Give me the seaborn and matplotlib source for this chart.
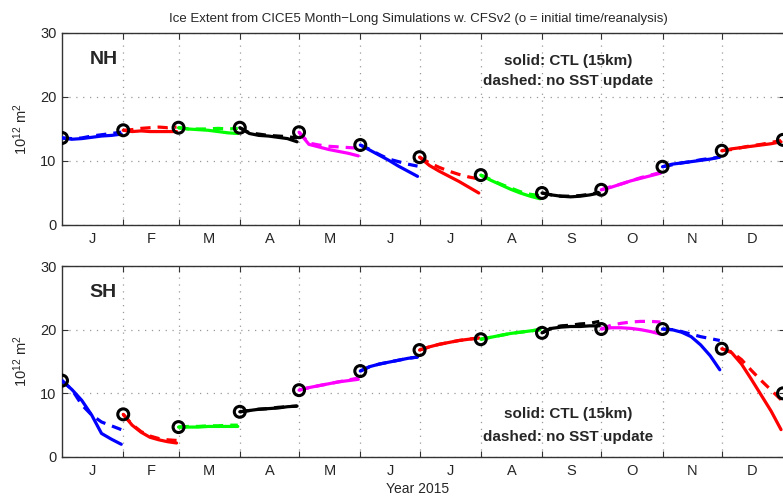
import numpy as np
import pandas as pd
import matplotlib
matplotlib.use("Agg")
import matplotlib.pyplot as plt
import seaborn as sns

# ---- data -----------------------------------------------------------------
month_labels = ["J", "F", "M", "A", "M", "J", "J", "A", "S", "O", "N", "D"]
month_starts = [0, 31, 59, 90, 120, 151, 181, 212, 243, 273, 304, 334, 365]
seg_colors = ["blue", "red", "lime", "black", "magenta", "blue",
              "red", "lime", "black", "magenta", "blue", "red"]

# reanalysis value at each month's initial time (incl. 1 Jan 2016)
nh_init = [13.6, 14.8, 15.2, 15.2, 14.5, 12.5, 10.6, 7.8, 5.0, 5.5, 9.1, 11.6, 13.3]
sh_init = [12.0, 6.7, 4.7, 7.1, 10.5, 13.5, 16.8, 18.5, 19.5, 20.1, 20.1, 17.0, 10.0]

# month-long forecasts, sampled evenly through each month
nh_ctl = [
    [13.6, 13.4, 13.5, 13.7, 13.9, 14.0, 14.2],
    [14.8, 14.6, 14.7, 14.6, 14.6, 14.6, 14.6],
    [15.2, 15.0, 14.9, 14.8, 14.6, 14.4, 14.3],
    [15.2, 14.3, 14.0, 13.9, 13.7, 13.5, 13.0],
    [14.5, 12.6, 12.2, 11.8, 11.5, 11.2, 10.8],
    [12.5, 11.7, 10.9, 10.1, 9.2, 8.4, 7.6],
    [10.6, 9.3, 8.4, 7.6, 6.8, 5.9, 5.0],
    [7.8, 7.0, 6.3, 5.6, 5.0, 4.5, 4.1],
    [5.0, 4.7, 4.5, 4.4, 4.5, 4.7, 5.0],
    [5.5, 5.9, 6.4, 6.9, 7.3, 7.7, 8.1],
    [9.1, 9.5, 9.7, 9.9, 10.1, 10.3, 10.6],
    [11.6, 11.9, 12.1, 12.3, 12.5, 12.7, 13.0],
]
nh_nosst = [
    [13.6, 13.5, 13.6, 13.9, 14.1, 14.3, 14.5],
    [14.8, 14.9, 15.1, 15.2, 15.3, 15.2, 15.3],
    [15.2, 15.0, 15.0, 15.0, 15.1, 15.0, 15.1],
    [15.2, 14.4, 14.2, 14.0, 13.9, 13.8, 13.6],
    [14.5, 12.8, 12.5, 12.3, 12.2, 12.1, 12.0],
    [12.5, 11.8, 11.0, 10.3, 9.9, 9.5, 9.2],
    [10.6, 9.7, 9.0, 8.4, 7.9, 7.5, 7.2],
    [7.8, 7.1, 6.4, 5.8, 5.2, 4.8, 4.6],
    [5.0, 4.7, 4.5, 4.5, 4.6, 4.8, 5.1],
    [5.5, 6.0, 6.4, 6.9, 7.4, 7.8, 8.2],
    [9.1, 9.4, 9.7, 9.9, 10.2, 10.4, 10.6],
    [11.6, 11.8, 12.1, 12.4, 12.6, 12.9, 13.2],
]
sh_ctl = [
    [12.0, 10.6, 8.9, 6.6, 3.7, 2.8, 2.0],
    [6.7, 5.0, 3.9, 3.1, 2.7, 2.4, 2.2],
    [4.7, 4.7, 4.7, 4.8, 4.8, 4.8, 4.8],
    [7.1, 7.3, 7.5, 7.6, 7.7, 7.9, 8.0],
    [10.5, 10.9, 11.2, 11.5, 11.8, 12.0, 12.2],
    [13.5, 14.2, 14.6, 14.9, 15.2, 15.5, 15.7],
    [16.8, 17.3, 17.7, 18.0, 18.3, 18.5, 18.7],
    [18.5, 18.8, 19.1, 19.4, 19.6, 19.8, 20.0],
    [19.5, 20.2, 20.4, 20.5, 20.5, 20.6, 20.6],
    [20.1, 20.3, 20.3, 20.2, 20.0, 19.7, 19.3],
    [20.1, 20.0, 19.6, 18.9, 17.6, 15.9, 13.7],
    [17.0, 16.4, 14.6, 12.2, 9.7, 7.2, 4.3],
]
sh_nosst = [
    [12.0, 10.6, 8.2, 6.6, 5.5, 4.9, 4.3],
    [6.7, 5.1, 4.0, 3.3, 2.9, 2.7, 2.6],
    [4.7, 4.8, 4.8, 4.9, 4.9, 5.0, 5.0],
    [7.1, 7.3, 7.5, 7.6, 7.8, 7.9, 8.0],
    [10.5, 10.9, 11.2, 11.5, 11.8, 12.1, 12.4],
    [13.5, 14.2, 14.6, 14.9, 15.2, 15.5, 15.7],
    [16.8, 17.3, 17.7, 18.0, 18.3, 18.5, 18.7],
    [18.5, 18.8, 19.1, 19.4, 19.6, 19.8, 20.0],
    [19.5, 20.3, 20.6, 20.7, 20.9, 21.0, 21.3],
    [20.1, 20.7, 21.0, 21.2, 21.3, 21.3, 21.2],
    [20.1, 20.0, 19.7, 19.3, 18.9, 18.6, 18.3],
    [17.0, 16.5, 15.3, 13.6, 12.0, 10.5, 9.0],
]


def to_frame(ctl, nosst):
    rows = []
    for m in range(12):
        start, nxt = month_starts[m], month_starts[m + 1]
        for run, series in (("CTL", ctl), ("noSST", nosst)):
            vals = series[m]
            days = np.linspace(start, nxt - 1, len(vals))
            for d, v in zip(days, vals):
                rows.append({"day": d, "extent": v, "month": m, "run": run})
    return pd.DataFrame(rows)


# ---- figure ---------------------------------------------------------------
sns.set_style("white")
plt.rcParams["font.family"] = ["Liberation Sans", "DejaVu Sans"]
plt.rcParams["mathtext.fontset"] = "custom"
plt.rcParams["mathtext.rm"] = "Liberation Sans"
plt.rcParams["mathtext.it"] = "Liberation Sans"

W, H = 783, 497
fig = plt.figure(figsize=(W / 100, H / 100), dpi=100)

left_px = 62
px_per_day = (783 - left_px) / 365.0
ax_right_px = 785
xmax = (ax_right_px - left_px) / px_per_day


def add_axes(top_px, bottom_px):
    return fig.add_axes([left_px / W, 1 - bottom_px / H,
                         (ax_right_px - left_px) / W, (bottom_px - top_px) / H])


def day_at(px):
    return (px - left_px) / px_per_day


ax_nh = add_axes(33, 225)
ax_sh = add_axes(266, 457)

palette = {m: c for m, c in enumerate(seg_colors)}
dash_map = {"CTL": "", "noSST": (3.2, 2.2)}

for ax, init, ctl, nosst, name in ((ax_nh, nh_init, nh_ctl, nh_nosst, "NH"),
                                   (ax_sh, sh_init, sh_ctl, sh_nosst, "SH")):
    df = to_frame(ctl, nosst)
    sns.lineplot(data=df, x="day", y="extent", hue="month", style="run",
                 palette=palette, dashes=dash_map, estimator=None,
                 sort=False, linewidth=2.3, legend=False, ax=ax, zorder=3)
    sns.scatterplot(x=month_starts, y=init, s=62, marker="o",
                    facecolors="none", edgecolors="black", linewidths=2.2,
                    ax=ax, zorder=5, clip_on=True)

    ax.set_xlim(0, xmax)
    ax.set_ylim(0, 30)
    ax.set_xticks(month_starts[1:12])
    ax.set_xticklabels([])
    mids = [(month_starts[i] + month_starts[i + 1]) / 2 for i in range(12)]
    ax.set_xticks(mids, minor=True)
    ax.set_xticklabels(month_labels, minor=True, fontsize=10.5)
    ax.set_yticks([0, 10, 20, 30])
    ax.set_yticklabels(["0", "10", "20", "30"], fontsize=10.5)
    ax.tick_params(axis="x", which="major", direction="in", length=4,
                   width=0.8, color="#333333", top=True, bottom=True)
    ax.tick_params(axis="x", which="minor", length=0, pad=5)
    ax.tick_params(axis="y", which="major", direction="in", length=4,
                   width=0.8, color="#333333", pad=4, left=True, right=True)
    ax.grid(True, which="major", color="#999999", linestyle=(0, (1, 4.5)),
            linewidth=0.9)
    ax.set_axisbelow(True)
    for sp in ax.spines.values():
        sp.set_color("#333333")
        sp.set_linewidth(1.0)
    ax.set_xlabel("")
    ax.set_ylabel("$10^{12}$ m$^2$", fontsize=10.5, labelpad=7)
    ax.text(0.038, 0.86, name, transform=ax.transAxes, fontsize=14,
            fontweight="bold", ha="left", va="center")

note_x = day_at(568)
ax_nh.text(note_x, 25.6, "solid: CTL (15km)", fontsize=11, fontweight="bold",
           ha="center", va="center")
ax_nh.text(note_x, 22.5, "dashed: no SST update", fontsize=11,
           fontweight="bold", ha="center", va="center")
ax_sh.text(note_x, 6.8, "solid: CTL (15km)", fontsize=11, fontweight="bold",
           ha="center", va="center")
ax_sh.text(note_x, 3.1, "dashed: no SST update", fontsize=11,
           fontweight="bold", ha="center", va="center")

ax_nh.set_title("Ice Extent from CICE5 Month\u2212Long Simulations w. CFSv2 "
                "(o = initial time/reanalysis)", fontsize=9.5, pad=8,
                x=(418 - left_px) / (ax_right_px - left_px))
fig.text(418 / W, 1 - 489 / H, "Year 2015", fontsize=10, ha="center",
         va="center")

fig.savefig("out.png", dpi=100)
